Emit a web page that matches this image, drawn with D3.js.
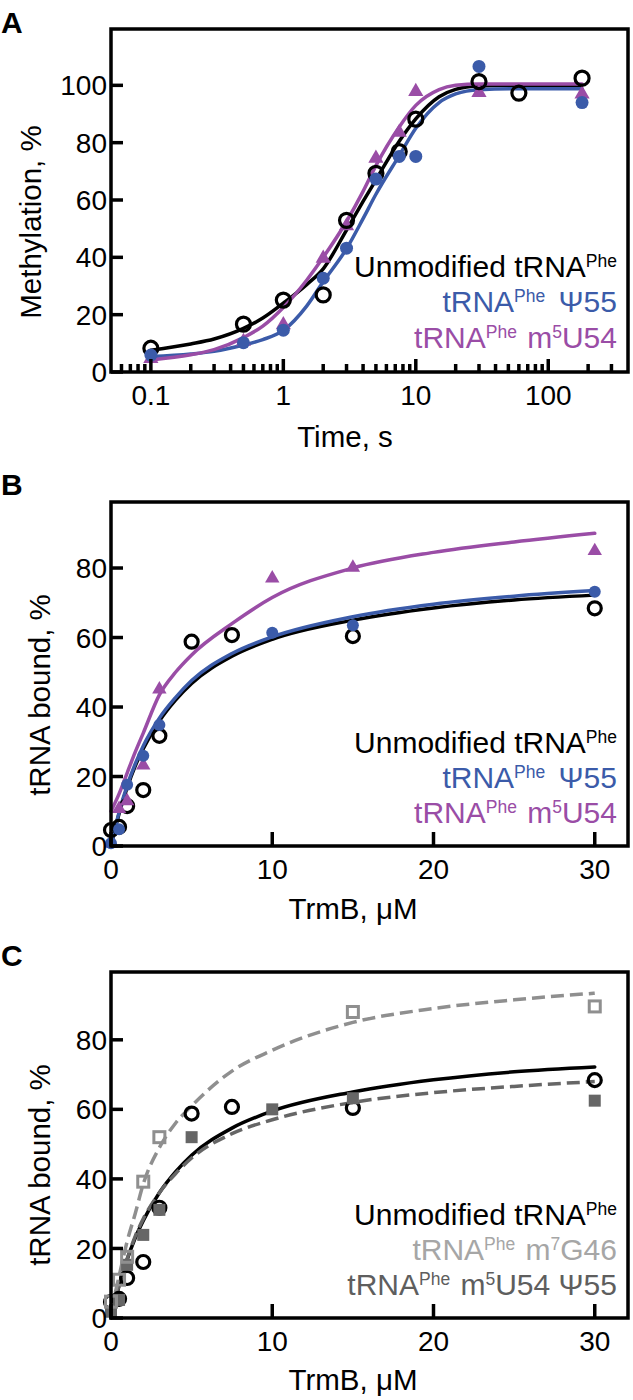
<!DOCTYPE html>
<html><head><meta charset="utf-8">
<script src="https://cdn.jsdelivr.net/npm/d3@7"></script>
<style>
body{margin:0;background:#fff}
svg text{font-family:"Liberation Sans",Arial,Helvetica,sans-serif;white-space:pre}
</style>
</head><body>
<svg id="fig" width="633" height="1400"></svg>
<script>
// ---------- Panel A : methylation time course ----------
const timeTicksA = [0.1, 1, 10, 100];
const timeTickLabelsA = ["0.1", "1", "10", "100"];
const timeMinorA = [0.06,0.07,0.08,0.09,0.2,0.3,0.4,0.5,0.6,0.7,0.8,0.9,2,3,4,5,6,7,8,9,20,30,40,50,60,70,80,90,200,300];
const yTicksA = [0, 20, 40, 60, 80, 100];

const unmodA_t = [0.1, 0.5, 1, 2, 3, 5, 7.5, 10, 30, 60, 180];
const unmodA_y = [8.3, 16.7, 25.1, 26.9, 52.9, 69.3, 76.9, 88.2, 101.3, 97.3, 102.5];
const psiA_t = [0.1, 0.5, 1, 2, 3, 5, 7.5, 10, 30, 180];
const psiA_y = [5.9, 10.2, 14.6, 32.7, 43.2, 67.3, 75.2, 75.2, 106.6, 94.0];
const m5uA_t = [0.1, 0.5, 1, 2, 3, 5, 7.5, 10, 30, 180];
const m5uA_y = [5.0, 11.0, 16.8, 40.0, 51.3, 74.9, 83.9, 98.2, 97.8, 97.3];

// fitted curves
const fitA_t = [0.1,0.2,0.3,0.5,0.7,1,1.5,2,3,4,5,7.5,10,15,20,30,60,180];
const fitUnmodA = [7.6,9.8,11.5,15.2,18.8,24,30.5,36,49.5,59.5,67,80.5,88.3,96,98.6,99.8,100,100];
const fitPsiA   = [5.4,6.3,7.2,9.4,11.3,14.5,23,31.5,43,53.5,62,75.5,85,94,97,98.5,98.8,98.8];
const fitM5uA   = [4.2,6,7.8,12,16,22.5,32,40,52.5,63,72,85.5,93,98.5,100,100.5,100.5,100.5];

// ---------- Panels B and C : binding ----------
const trmbTicks = [0, 10, 20, 30];
const boundTicks = [0, 20, 40, 60, 80];

const unmod_x = [0, 0.5, 1, 2, 3, 5, 7.5, 15, 30];
const unmod_y = [4.6, 5.5, 11.5, 16.1, 31.7, 58.8, 60.7, 60.4, 68.4];
const psi_x = [0, 0.5, 1, 2, 3, 10, 15, 30];
const psi_y = [0.8, 4.8, 17.6, 26.0, 34.8, 61.4, 63.5, 73.2];
const m5u_x = [0, 0.5, 1, 2, 3, 10, 15, 30];
const m5u_y = [1.0, 11.0, 13.2, 23.5, 45.4, 77.3, 80.4, 85.2];
const m7g_x = [0, 0.5, 1, 2, 3, 15, 30];
const m7g_y = [4.7, 11.0, 17.6, 39.2, 52.0, 88.0, 89.6];
const m5uPsi_x = [0, 0.5, 1, 2, 3, 5, 10, 15, 30];
const m5uPsi_y = [1.8, 5.2, 15.3, 23.9, 31.1, 52.0, 60.0, 63.2, 62.5];

const fit_x = [0,0.5,1,1.5,2,3,4,5,7.5,10,15,20,25,30];
const fitUnmod  = [0,9.3,16.8,23,28,36,42,46.8,54.6,59.5,65,68.5,70.8,72.2];
const fitPsi    = [0,9.7,17.4,23.6,28.8,36.8,42.7,47.6,55.4,60.2,66,69.6,71.9,73.5];
const fitM5u    = [10,15,21,27,32.5,43.5,50,55,64,71.5,80,84.5,87.5,90];
const fitM7g    = [2,12,22,30,38.5,49,56,61,71,77,85,89,91.5,93.4];
const fitM5uPsi = [0,9.5,17,23.5,28.5,36,41.5,46,53,57,62,64.8,66.6,68];

const BLACK = "#000", BLUE = "#3b5ba9", PURPLE = "#9a4da6",
      LGRAY = "#8f8f8f", DGRAY = "#666666", LGRAY_T = "#a6a6a6", DGRAY_T = "#5e5e5e";

const svg = d3.select("#fig");
const zip = (xs, ys) => xs.map((x, i) => [x, ys[i]]);

function frame(left, right, top, bottom) {
  svg.append("rect").attr("x", left).attr("y", top)
    .attr("width", right - left).attr("height", bottom - top)
    .attr("fill", "none").attr("stroke", "#000").attr("stroke-width", 3.5);
}
function yAxis(y, left, ticks) {
  const g = svg.append("g");
  ticks.forEach(t => {
    g.append("line").attr("x1", left).attr("x2", left + 12).attr("y1", y(t)).attr("y2", y(t))
      .attr("stroke", "#000").attr("stroke-width", 3.5);
    g.append("text").attr("x", left - 4).attr("y", y(t)).attr("dy", "0.36em")
      .attr("text-anchor", "end").style("font-size", "28px").text(t);
  });
}
function xAxis(x, bottom, ticks, labels, len) {
  const g = svg.append("g");
  ticks.forEach((t, i) => {
    g.append("line").attr("x1", x(t)).attr("x2", x(t)).attr("y1", bottom).attr("y2", bottom - len)
      .attr("stroke", "#000").attr("stroke-width", 3.5);
    g.append("text").attr("x", x(t)).attr("y", bottom + 33)
      .attr("text-anchor", "middle").style("font-size", "28px").text(labels[i]);
  });
}
function curve(x, y, pts, color, dash) {
  const line = d3.line().x(d => x(d[0])).y(d => y(d[1])).curve(d3.curveMonotoneX);
  svg.append("path").attr("d", line(pts)).attr("fill", "none").attr("stroke", color)
    .attr("stroke-width", 3.5).attr("stroke-linecap", dash ? "butt" : "round")
    .attr("stroke-dasharray", dash || null);
}
function circlesOpen(x, y, pts, r) {
  svg.append("g").selectAll("circle").data(pts).join("circle")
    .attr("cx", d => x(d[0])).attr("cy", d => y(d[1])).attr("r", r)
    .attr("fill", "none").attr("stroke", "#000").attr("stroke-width", 3.2);
}
function dots(x, y, pts, r, color) {
  svg.append("g").selectAll("circle").data(pts).join("circle")
    .attr("cx", d => x(d[0])).attr("cy", d => y(d[1])).attr("r", r).attr("fill", color);
}
function triangles(x, y, pts, size, color) {
  const sym = d3.symbol().type(d3.symbolTriangle).size(size);
  svg.append("g").selectAll("path").data(pts).join("path")
    .attr("transform", d => `translate(${x(d[0])},${y(d[1]) + 1})`).attr("d", sym).attr("fill", color);
}
function squares(x, y, pts, s, color, open) {
  svg.append("g").selectAll("rect").data(pts).join("rect")
    .attr("x", d => x(d[0]) - s / 2).attr("y", d => y(d[1]) - s / 2)
    .attr("width", s).attr("height", s)
    .attr("fill", open ? "none" : color).attr("stroke", open ? color : "none").attr("stroke-width", 3);
}
function legend(items, xr, baselines) {
  items.forEach((it, i) => {
    const t = svg.append("text").attr("x", xr).attr("y", baselines[i])
      .attr("text-anchor", "end").attr("fill", it.color).style("font-size", "30px");
    let up = false;
    it.parts.forEach(([s, sup, dx]) => {
      const ts = t.append("tspan").text(s);
      if (dx) ts.attr("dx", dx);
      if (sup) { ts.style("font-size", "17.5px"); if (!up) { ts.attr("dy", -10.5); up = true; } }
      else if (up) { ts.attr("dy", 10.5); up = false; }
    });
  });
}
function yTitle(cx, cy, txt) {
  svg.append("text").attr("transform", `translate(${cx},${cy}) rotate(-90)`)
    .attr("text-anchor", "middle").style("font-size", "29.5px").text(txt);
}
function xTitle(cx, by, txt) {
  svg.append("text").attr("x", cx).attr("y", by).attr("text-anchor", "middle")
    .style("font-size", "29.5px").text(txt);
}
function letter(t, by) {
  svg.append("text").attr("x", 1).attr("y", by).style("font-size", "30px")
    .style("font-weight", "bold").text(t);
}

const legendUnmod = {color: BLACK, parts: [["Unmodified tRNA", 0], ["Phe", 1]]};

// ---------- Panel A ----------
{
  const L = 111, R = 628, T = 29, B = 372;
  const x = d3.scaleLog().domain([0.05, 400]).range([L, R]);
  const y = d3.scaleLinear().domain([0, 120]).range([B, 28]);
  curve(x, y, zip(fitA_t, fitUnmodA), BLACK);
  curve(x, y, zip(fitA_t, fitPsiA), BLUE);
  curve(x, y, zip(fitA_t, fitM5uA), PURPLE);
  triangles(x, y, zip(m5uA_t, m5uA_y), 100, PURPLE);
  circlesOpen(x, y, zip(unmodA_t, unmodA_y), 7);
  dots(x, y, zip(psiA_t, psiA_y), 6.5, BLUE);
  frame(L, R, T, B);
  yAxis(y, L, yTicksA);
  xAxis(x, B, timeTicksA, timeTickLabelsA, 13);
  xAxis(x, B, timeMinorA, timeMinorA.map(() => ""), 8);
  legend([
    legendUnmod,
    {color: BLUE, parts: [["tRNA", 0], ["Phe", 1], [" Ψ55", 0, 5]]},
    {color: PURPLE, parts: [["tRNA", 0], ["Phe", 1], [" m", 0, 2], ["5", 1], ["U54", 0]]}
  ], 617, [277, 312, 348]);
  yTitle(41, 222, "Methylation, %");
  xTitle(345, 447, "Time, s");
  letter("A", 33);
}

// ---------- Panel B ----------
{
  const L = 111, R = 628, T = 502, B = 846;
  const x = d3.scaleLinear().domain([0, 32]).range([L, 627]);
  const y = d3.scaleLinear().domain([0, 99]).range([B, T]);
  curve(x, y, zip(fit_x, fitUnmod), BLACK);
  curve(x, y, zip(fit_x, fitPsi), BLUE);
  curve(x, y, zip(fit_x, fitM5u), PURPLE);
  circlesOpen(x, y, zip(unmod_x, unmod_y), 6.5);
  triangles(x, y, zip(m5u_x, m5u_y), 90, PURPLE);
  dots(x, y, zip(psi_x, psi_y), 6, BLUE);
  frame(L, R, T, B);
  yAxis(y, L, boundTicks);
  xAxis(x, B, trmbTicks, trmbTicks.map(String), 14);
  legend([
    legendUnmod,
    {color: BLUE, parts: [["tRNA", 0], ["Phe", 1], [" Ψ55", 0, 5]]},
    {color: PURPLE, parts: [["tRNA", 0], ["Phe", 1], [" m", 0, 2], ["5", 1], ["U54", 0]]}
  ], 617, [753, 788, 823]);
  yTitle(50, 695, "tRNA bound, %");
  xTitle(353, 919, "TrmB, μM");
  letter("B", 495);
}

// ---------- Panel C ----------
{
  const L = 111, R = 628, T = 972, B = 1318;
  const x = d3.scaleLinear().domain([0, 32]).range([L, 627]);
  const y = d3.scaleLinear().domain([0, 99.5]).range([B, T]);
  curve(x, y, zip(fit_x, fitUnmod), BLACK);
  curve(x, y, zip(fit_x, fitM5uPsi), DGRAY, "13,6");
  curve(x, y, zip(fit_x, fitM7g), LGRAY, "13,6");
  circlesOpen(x, y, zip(unmod_x, unmod_y), 6.5);
  squares(x, y, zip(m5uPsi_x, m5uPsi_y), 12, DGRAY, false);
  squares(x, y, zip(m7g_x, m7g_y), 11, LGRAY, true);
  frame(L, R, T, B);
  yAxis(y, L, boundTicks);
  xAxis(x, B, trmbTicks, trmbTicks.map(String), 14);
  legend([
    legendUnmod,
    {color: LGRAY_T, parts: [["tRNA", 0], ["Phe", 1], [" m", 0, 2], ["7", 1], ["G46", 0]]},
    {color: DGRAY_T, parts: [["tRNA", 0], ["Phe", 1], [" m", 0, 2], ["5", 1], ["U54 Ψ55", 0]]}
  ], 617, [1225, 1260, 1295]);
  yTitle(50, 1165, "tRNA bound, %");
  xTitle(353, 1390, "TrmB, μM");
  letter("C", 966);
}
</script>
</body></html>
